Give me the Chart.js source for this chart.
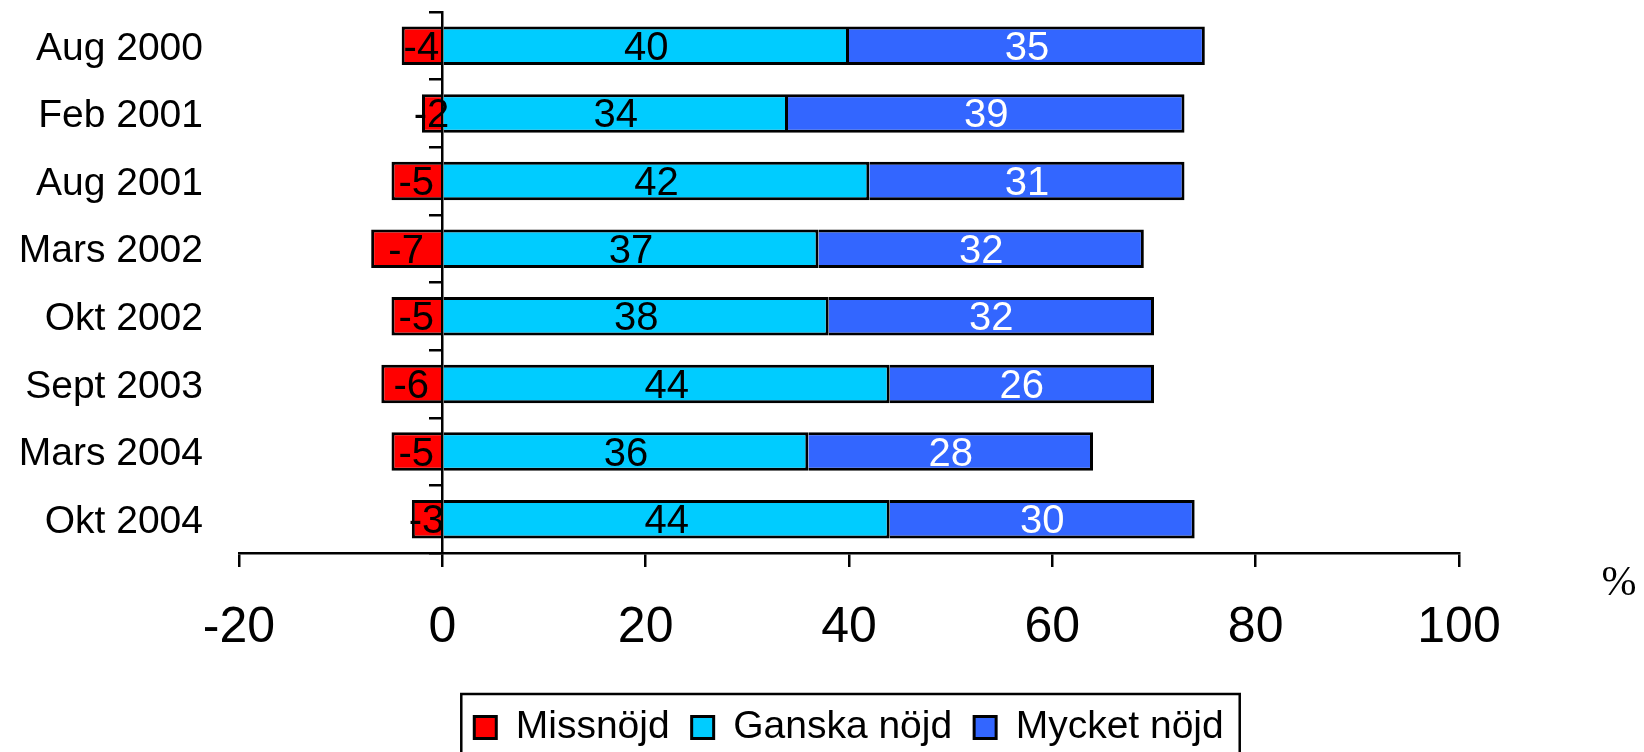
<!DOCTYPE html>
<html>
<head>
<meta charset="utf-8">
<script src="https://cdn.jsdelivr.net/npm/chart.js@4.4.0/dist/chart.umd.min.js"></script>
<style>
  body { margin: 0; background: #fff; }
  #wrap { position: relative; width: 1644px; height: 752px; }
  #unit { position: absolute; left: 1619px; top: 581px; transform: translate(-50%, -50%);
          font: 42px "Liberation Serif", serif; color: #000; }
</style>
</head>
<body>
<div id="wrap">
  <canvas id="myChart" width="1644" height="752"></canvas>
  <div id="unit">%</div>
</div>
<script>
const periods = ["Aug 2000", "Feb 2001", "Aug 2001", "Mars 2002", "Okt 2002", "Sept 2003", "Mars 2004", "Okt 2004"];
const missnojd = [-4, -2, -5, -7, -5, -6, -5, -3];
const ganskaNojd = [40, 34, 42, 37, 38, 44, 36, 44];
const mycketNojd = [35, 39, 31, 32, 32, 26, 28, 30];
const xTicks = [-20, 0, 20, 40, 60, 80, 100];

const FONT = "'Liberation Sans', Arial, sans-serif";
const labelColors = ["#000000", "#000000", "#ffffff"];

// numbers in the middle of each bar
const barLabels = {
  id: "barLabels",
  afterDatasetsDraw(chart) {
    const ctx = chart.ctx;
    ctx.save();
    ctx.font = "40px " + FONT;
    ctx.textAlign = "center";
    ctx.textBaseline = "middle";
    chart.data.datasets.forEach((ds, i) => {
      chart.getDatasetMeta(i).data.forEach((bar, j) => {
        ctx.fillStyle = labelColors[i];
        ctx.fillText(String(ds.data[j]), (bar.x + bar.base) / 2, bar.y + 3);
      });
    });
    ctx.restore();
  }
};

// black frame round the legend
const legendFrame = {
  id: "legendFrame",
  afterDraw(chart) {
    const boxes = chart.legend.legendHitBoxes;
    if (!boxes || !boxes.length) return;
    const first = boxes[0], last = boxes[boxes.length - 1];
    const ctx = chart.ctx;
    ctx.save();
    ctx.strokeStyle = "#000";
    ctx.lineWidth = 2.5;
    ctx.strokeRect(first.left - 13, first.top - 14, last.left + last.width + 16 - (first.left - 13), 120);
    ctx.restore();
  }
};

var ctx = document.getElementById("myChart").getContext("2d");
var chart = new Chart(ctx, {
  type: "bar",
  data: {
    labels: periods,
    datasets: [
      { label: "Missnöjd", data: missnojd, backgroundColor: "#ff0000" },
      { label: "Ganska nöjd", data: ganskaNojd, backgroundColor: "#00ccff" },
      { label: "Mycket nöjd", data: mycketNojd, backgroundColor: "#3366ff" }
    ]
  },
  plugins: [barLabels, legendFrame],
  options: {
    indexAxis: "y",
    responsive: false,
    animation: false,
    layout: { padding: { top: 12, right: 185, left: 0, bottom: -5 } },
    datasets: {
      bar: {
        borderColor: "#000",
        borderWidth: 3,
        borderSkipped: "start",
        inflateAmount: 0,
        categoryPercentage: 1,
        barPercentage: 0.57
      }
    },
    plugins: {
      tooltip: { enabled: false },
      legend: {
        position: "bottom",
        fullSize: false,
        labels: {
          boxWidth: 22,
          boxHeight: 22,
          padding: 22,
          color: "#000",
          font: { family: FONT, size: 39 }
        }
      }
    },
    scales: {
      y: {
        type: "category",
        position: "left",
        stacked: true,
        grid: { display: false, drawTicks: false },
        border: { display: false },
        ticks: { color: "#000", padding: 36, labelOffset: 3, font: { family: FONT, size: 39 } },
        afterFit: (s) => { s.width = 239; s.paddingTop = 0; s.paddingBottom = 0; }
      },
      y2: {
        type: "category",
        position: { x: 0 },
        offset: true,
        grid: { offset: true, drawOnChartArea: false, tickLength: 12, color: "#000", lineWidth: 2.5 },
        border: { color: "#000", width: 2.5 },
        ticks: { display: false }
      },
      x: {
        type: "linear",
        stacked: true,
        min: -20,
        max: 100,
        afterBuildTicks: (s) => { s.ticks = xTicks.map(v => ({ value: v })); },
        grid: { drawOnChartArea: false, tickLength: 14, color: "#000", lineWidth: 2.5 },
        border: { color: "#000", width: 2.5 },
        ticks: { color: "#000", padding: 31, font: { family: FONT, size: 50 } },
        afterFit: (s) => { s.height = 133; }
      }
    }
  }
});
</script>
</body>
</html>
